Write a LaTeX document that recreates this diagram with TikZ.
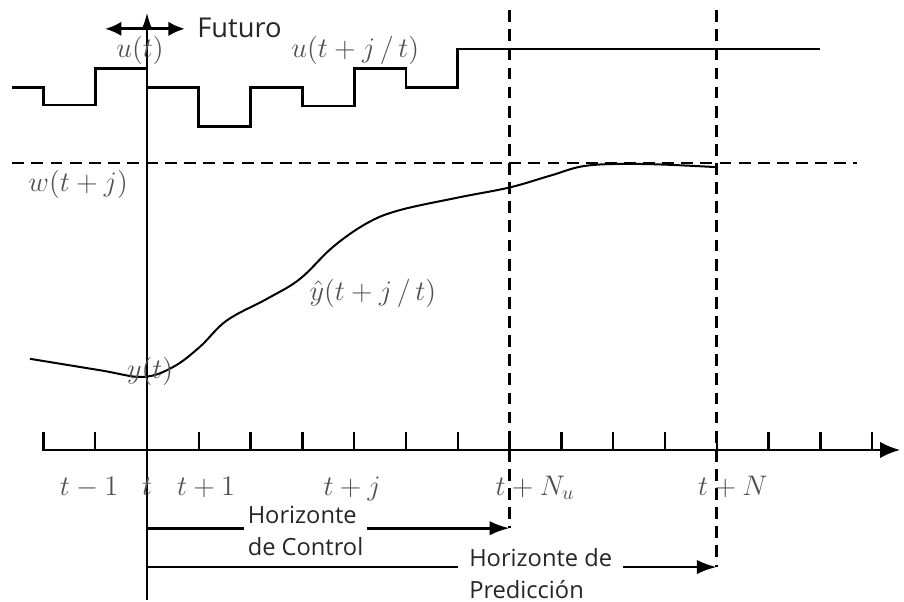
\documentclass[tikz,border=0pt]{standalone}
\usepackage{amsmath,amssymb}
\usepackage{fontspec}
\newfontfamily\hzfont{Open Sans}
\usetikzlibrary{arrows.meta,positioning,calc}
\definecolor{lblgray}{RGB}{80,80,80}

\begin{document}
\begin{tikzpicture}[
    mlabel/.style={text=lblgray, font=\fontsize{14.4}{17}\selectfont, inner sep=1pt, scale=1.08, transform shape},
    hlabel/.style={font=\hzfont\fontsize{13}{17.5}\selectfont, text=black!85, align=left},
    guide/.style={line width=1.6pt, dash pattern=on 6.5pt off 4pt},
    signal/.style={line width=1.6pt},
    tip/.style={-{Latex[length=11pt,width=8pt]}}
]
    \useasboundingbox (-2.838,-2.934) rectangle (14.614,8.687);

    % Time axis
    \coordinate (tstart) at (-2.03,0);
    \coordinate (tend) at (14.54,0);
    \draw[line width=1.4pt, -{Latex[length=11pt,width=9pt]}] (tstart) -- (tend);
    \foreach \k in {-2,...,14} {
        \draw[line width=1.4pt] (\k,0) -- (\k,0.35);
    }

    % Present instant t
    \coordinate (tlow) at (0,-2.9);
    \coordinate (ttop) at (0,8.44);
    \draw[line width=1.1pt, -{Latex[length=9pt,width=6pt]}] (tlow) -- (ttop);
    \coordinate (past) at (-0.81,8.13);
    \coordinate (fut) at (0.73,8.13);
    \draw[line width=1.6pt, {Latex[length=9pt,width=8pt]}-{Latex[length=9pt,width=8pt]}] (past) -- (fut);
    \node[hlabel, font=\hzfont\fontsize{15}{17}\selectfont, anchor=west, inner sep=1pt] (futuro) at (0.93,8.14) {Futuro};

    % Reference w(t+j)
    \coordinate (wa) at (-2.6,5.54);
    \coordinate (wb) at (13.7,5.54);
    \draw[guide] (wa) -- (wb);

    % Horizons Nu and N
    \coordinate (Nutop) at (7,8.49);
    \coordinate (Nulow) at (7,-1.51);
    \coordinate (Ntop) at (11,8.49);
    \coordinate (Nlow) at (11,-2.26);
    \draw[guide] (Nutop) -- (Nulow);
    \draw[guide] (Ntop) -- (Nlow);

    % Control signal u
    \draw[signal] (-2.6,7.0) -| (-2,6.66) -| (-1,7.37) -- (0,7.37);
    \draw[signal] (0,7.0) -| (1,6.25) -| (2,7.0) -| (3,6.64) -| (4,7.37) -| (5,7.0) -| (6,7.74) -- (13,7.74);

    % Predicted output
    \draw[line width=1.1pt] plot[smooth, tension=0.6] coordinates {(-2.26,1.76) (-0.91,1.54) (-0.08,1.41) (0.5,1.6) (1.02,1.99) (1.54,2.5) (2.32,2.92) (2.95,3.3) (3.59,3.92) (4.25,4.38) (4.88,4.63) (6.04,4.88) (7.01,5.07) (7.8,5.3) (8.5,5.49) (9.6,5.52) (11,5.46)};

    % Signal labels
    \node[mlabel] (ut) at (-0.135,7.72) {$u(t)$};
    \node[mlabel] (utj) at (4.02,7.72) {$u(t+j\,/\,t)$};
    \node[mlabel] (wtj) at (-1.33,5.12) {$w(t+j)$};
    \node[mlabel] (yhat) at (4.36,3.02) {$\hat{y}(t+j\,/\,t)$};
    \node[mlabel] (yt) at (0.06,1.51) {$y(t)$};

    % Time labels
    \node[mlabel, anchor=base] (tm1) at (-1.12,-0.87) {$t-1$};
    \node[mlabel, anchor=base] (t0) at (0,-0.87) {$t$};
    \node[mlabel, anchor=base] (tp1) at (1.14,-0.87) {$t+1$};
    \node[mlabel, anchor=base] (tpj) at (3.96,-0.87) {$t+j$};
    \node[mlabel, anchor=base] (tNu) at (7.49,-0.87) {$t+N_u$};
    \node[mlabel, anchor=base] (tN) at (11.31,-0.87) {$t+N$};

    % Control and prediction horizons
    \coordinate (hc0) at (0,-1.51);
    \coordinate (hp0) at (0,-2.26);
    \draw[signal, tip] (hc0) -- (Nulow);
    \draw[signal, tip] (hp0) -- (Nlow);
    \node[hlabel, fill=white, inner xsep=2pt, inner ysep=1pt] (hctrl) at (3.06,-1.56) {Horizonte\\de Control};
    \node[hlabel, fill=white, inner xsep=6pt, inner ysep=1pt] (hpred) at (7.6,-2.38) {Horizonte de\\Predicción};
\end{tikzpicture}
\end{document}
